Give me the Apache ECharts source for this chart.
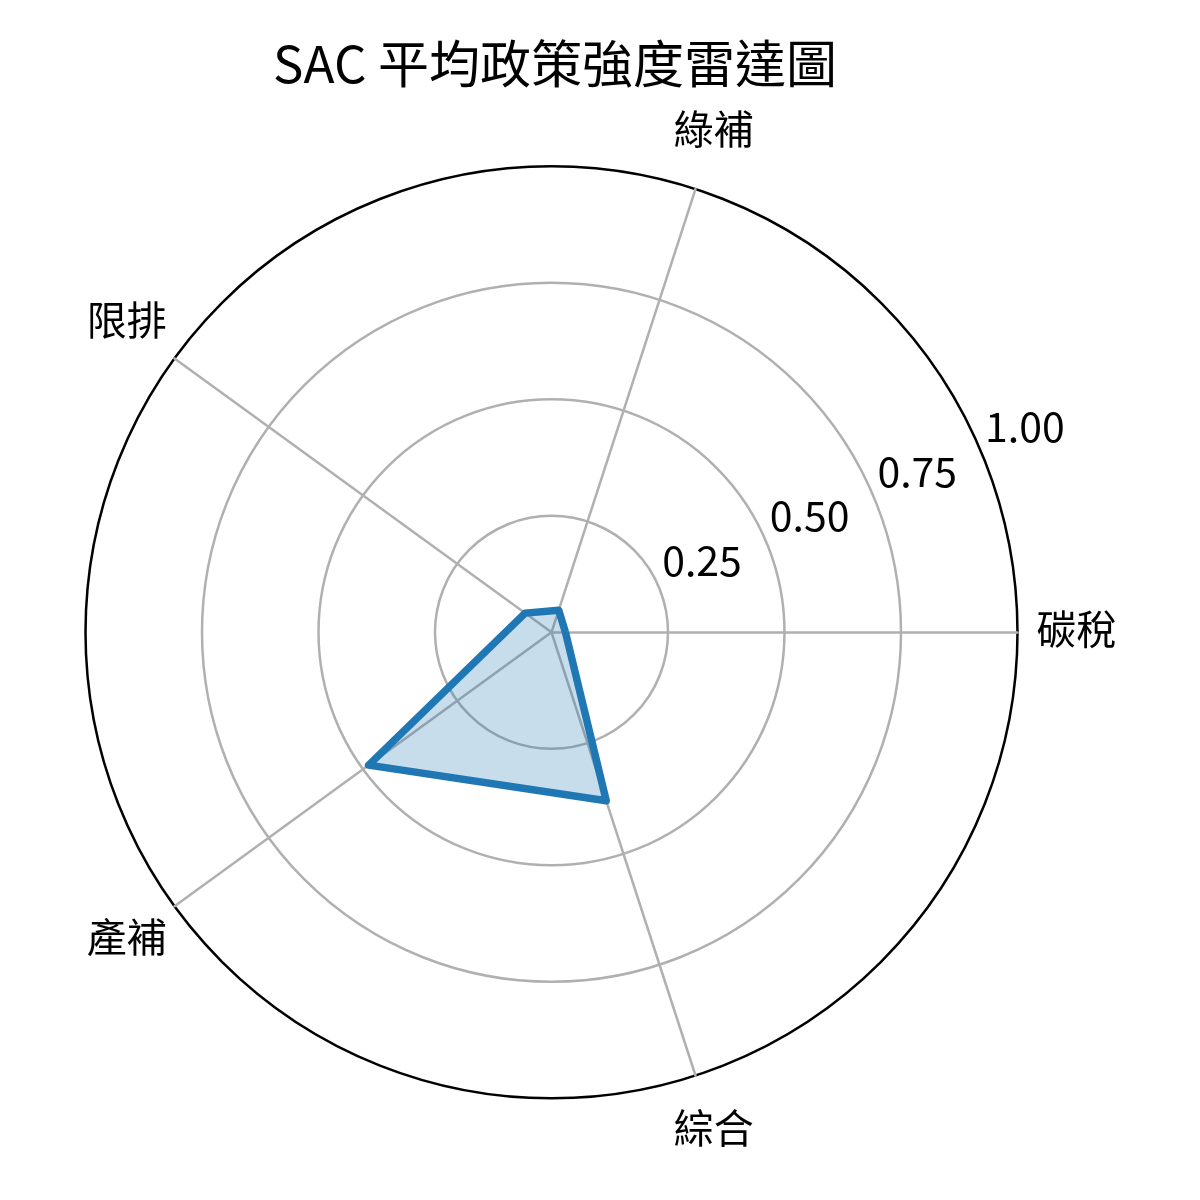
<!DOCTYPE html>
<html>
<head>
<meta charset="utf-8">
<script src="https://cdn.jsdelivr.net/npm/echarts@6/dist/echarts.min.js"></script>
<style>
html,body{margin:0;padding:0;background:#fff;}
#chart{width:1200px;height:1200px;}
</style>
</head>
<body>
<div id="chart"></div>
<script>
const titleText = 'SAC 平均政策強度雷達圖';
const categories = ['碳稅', '綠補', '限排', '產補', '綜合'];
const values = [0.03, 0.05, 0.07, 0.485, 0.38];
const radialTicks = [0, 0.25, 0.5, 0.75, 1.0];

const FONT = '"Noto Sans CJK TC", "Noto Sans", sans-serif';
const CENTER = [551.5, 632.3];
const RADIUS = 466;
const GRID = '#b0b0b0';

const chart = echarts.init(document.getElementById('chart'), null, {renderer: 'canvas'});
chart.setOption({
  backgroundColor: '#ffffff',
  animation: false,
  title: {
    text: titleText,
    left: 550,
    textAlign: 'center',
    top: 33,
    textStyle: {fontFamily: FONT, fontSize: 51, fontWeight: 'normal', color: '#000'}
  },
  radar: {
    center: CENTER,
    radius: RADIUS,
    startAngle: 0,
    shape: 'circle',
    splitNumber: radialTicks.length - 1,
    indicator: categories.map(c => ({name: c, min: radialTicks[0], max: radialTicks[radialTicks.length - 1]})),
    nameGap: 59,
    axisName: {
      color: '#000', fontFamily: FONT, fontSize: 40,
      align: 'center', verticalAlign: 'middle',
      formatter: n => '{a|' + n + '}',
      rich: {a: {fontFamily: FONT, fontSize: 40, color: '#000', padding: [0, 0, 8, 0]}}
    },
    axisLine: {show: true, lineStyle: {color: GRID, width: 2.5}},
    axisTick: {show: false},
    axisLabel: {show: false},
    splitLine: {show: true, lineStyle: {color: [GRID, GRID, GRID, GRID, '#000000'], width: 2.5}},
    splitArea: {show: false}
  },
  polar: {center: CENTER, radius: RADIUS},
  angleAxis: {
    type: 'value', min: 0, max: 360, startAngle: 22.5, show: false
  },
  radiusAxis: {
    type: 'value',
    min: radialTicks[0], max: radialTicks[radialTicks.length - 1], interval: 0.25,
    axisLine: {show: false}, axisTick: {show: false}, splitLine: {show: false},
    axisLabel: {
      show: true, margin: 0, align: 'left', verticalAlign: 'bottom',
      padding: [0, 0, 7, 3],
      color: '#000', fontFamily: FONT, fontSize: 41, hideOverlap: false,
      formatter: v => (v === 0 ? '' : v.toFixed(2))
    }
  },
  series: [{
    type: 'radar',
    symbol: 'none',
    z: 5,
    lineStyle: {color: '#1f77b4', width: 7.5},
    areaStyle: {color: 'rgba(31,119,180,0.25)', opacity: 1},
    data: [{value: values, name: 'SAC'}]
  }]
});
</script>
</body>
</html>
